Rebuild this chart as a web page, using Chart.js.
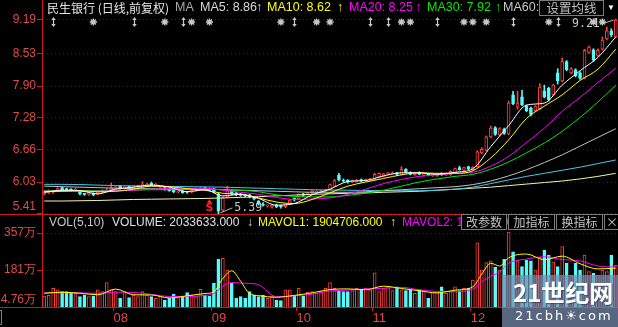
<!DOCTYPE html>
<html>
<head>
<meta charset="utf-8">
<script src="https://cdn.jsdelivr.net/npm/chart.js@4.4.1/dist/chart.umd.min.js"></script>
<style>
html,body{margin:0;padding:0;background:#000;}
#wrap{position:relative;width:618px;height:327px;background:#000;overflow:hidden;}
canvas{position:absolute;left:0;}
#cp{top:0;}
#cv{top:215px;}
.t{position:absolute;white-space:nowrap;font-family:"Liberation Sans",Arial,sans-serif;line-height:15px;}
.h1{top:0;font-size:12.5px;}
.h2{top:215px;font-size:12px;}
.cjk{font-family:"Noto Sans CJK SC",sans-serif;font-size:12px;}
.btn{position:absolute;box-sizing:border-box;border:1px solid #7c7c7c;background:#000;color:#c4c4c4;font-family:"Noto Sans CJK SC",sans-serif;font-size:12px;line-height:13px;text-align:center;}
.hl{position:absolute;left:0;width:618px;height:1px;background:#d01818;}
#wm{position:absolute;left:502px;top:275px;width:116px;height:52px;background:rgba(120,140,175,0.72);}
#wm1{position:absolute;left:11px;top:2px;font-family:"Noto Sans CJK SC",sans-serif;font-weight:bold;font-size:24px;line-height:30px;color:#fff;text-shadow:1px 1px 1px rgba(40,50,70,0.6);white-space:nowrap;}
#wm2{position:absolute;left:13px;top:33px;font-family:"DejaVu Sans",sans-serif;font-size:13px;line-height:15px;letter-spacing:2px;color:#fff;white-space:nowrap;}
</style>
</head>
<body>
<div id="wrap">
<canvas id="cp" width="618" height="215"></canvas>
<canvas id="cv" width="618" height="112"></canvas>
<div class="hl" style="top:214px"></div>
<div class="hl" style="top:307px"></div>
<div style="position:absolute;left:-8px;top:310px;width:10px;height:15px;border:1px solid #808080;box-sizing:border-box;"></div>

<span class="t h1 cjk" style="left:47px;color:#e6e6e6;">民生银行 (日线,前复权)</span>
<span class="t h1" style="left:175px;color:#a8a8a8;">MA</span>
<span class="t h1" style="left:200px;color:#d8d8d8;">MA5: 8.86</span>
<span class="t h1" style="left:256px;color:#d8d8d8;">↑</span>
<span class="t h1" style="left:267px;color:#ffff00;">MA10: 8.62</span>
<span class="t h1" style="left:337px;color:#ffff00;">↑</span>
<span class="t h1" style="left:349px;color:#ff00ff;">MA20: 8.25</span>
<span class="t h1" style="left:415px;color:#ff00ff;">↑</span>
<span class="t h1" style="left:427px;color:#00e800;">MA30: 7.92</span>
<span class="t h1" style="left:495px;color:#00e800;">↑</span>
<span class="t h1" style="left:503px;color:#c8c8c8;">MA60:</span>
<div class="btn" style="left:539px;top:0px;width:65px;height:16px;font-size:12.5px;">设置均线</div>
<span class="t" style="left:607px;top:0px;font-size:8px;color:#fff;">▼</span>

<span class="t h2" style="left:49px;color:#c8c8c8;">VOL(5,10)</span>
<span class="t h2" style="left:112px;color:#e0e0e0;">VOLUME: 2033633.000</span>
<span class="t h2" style="left:247px;color:#e0e0e0;">↓</span>
<span class="t h2" style="left:258px;color:#ffff00;">MAVOL1: 1904706.000</span>
<span class="t h2" style="left:390px;color:#ffff00;">↑</span>
<span class="t h2" style="left:402px;color:#ff00ff;">MAVOL2: 1951622.000</span>
<div class="btn" style="left:461px;top:214px;width:46px;height:16px;">改参数</div>
<div class="btn" style="left:508px;top:214px;width:47px;height:16px;">加指标</div>
<div class="btn" style="left:556px;top:214px;width:47px;height:16px;">换指标</div>
<div class="btn" style="left:604px;top:214px;width:16px;height:16px;">×</div>

<div id="wm"><div id="wm1">21世纪网</div><div id="wm2">21cbh☀com</div></div>
</div>

<script>
const priceTicks = [5.41, 6.03, 6.66, 7.28, 7.90, 8.53, 9.19];
const priceTickLabels = ['5.41','6.03','6.66','7.28','7.90','8.53','9.19'];
const volTicks = [4.76, 181, 357];
const volTickLabels = ['4.76万','181万','357万'];
const monthStarts = [16, 38, 57, 74, 96];
const monthLabels = ['08','09','10','11','12'];

const open = [5.80,5.82,5.83,5.85,5.92,5.90,5.89,5.86,5.86,5.80,
5.79,5.81,5.79,5.83,5.85,5.88,5.91,5.95,5.90,5.94,
5.92,5.93,5.96,5.96,6.01,5.96,5.90,5.92,5.90,5.88,
5.83,5.86,5.84,5.83,5.86,5.88,5.92,5.90,5.90,5.80,
5.48,5.74,5.86,5.82,5.80,5.77,5.78,5.74,5.66,5.60,
5.56,5.54,5.58,5.57,5.55,5.62,5.71,5.70,5.80,5.78,
5.82,5.83,5.83,5.85,5.88,5.95,6.16,6.07,6.07,6.03,
6.04,6.08,6.05,6.07,6.08,6.12,6.14,6.18,6.19,6.21,
6.18,6.28,6.22,6.17,6.22,6.16,6.19,6.15,6.15,6.20,
6.17,6.17,6.21,6.31,6.26,6.33,6.27,6.33,6.60,6.65,
6.91,7.09,6.95,7.06,6.97,7.73,7.49,7.69,7.51,7.47,
7.42,7.46,7.81,7.86,7.73,8.16,8.00,8.38,8.16,8.22,
8.16,8.06,8.56,8.61,8.50,8.62,8.82,8.98,8.86];
const high = [5.86,5.88,5.87,5.92,5.93,5.91,5.90,5.91,5.87,5.81,
5.82,5.82,5.85,5.88,5.90,6.01,5.95,5.96,5.94,5.95,
5.96,5.97,6.04,6.01,6.03,6.00,5.94,5.93,5.91,5.89,
5.86,5.87,5.85,5.88,5.91,5.93,5.93,5.91,5.91,5.81,
5.74,5.95,5.88,5.83,5.81,5.78,5.79,5.75,5.67,5.63,
5.59,5.59,5.60,5.58,5.61,5.69,5.72,5.80,5.81,5.83,
5.87,5.86,5.87,5.89,5.99,6.08,6.20,6.09,6.08,6.07,
6.08,6.09,6.09,6.10,6.20,6.21,6.20,6.22,6.23,6.22,
6.33,6.29,6.23,6.22,6.23,6.20,6.20,6.19,6.20,6.21,
6.21,6.25,6.30,6.34,6.32,6.34,6.33,6.64,6.70,6.93,
7.12,7.11,7.09,7.08,7.61,7.80,7.80,7.82,7.53,7.49,
7.52,7.95,7.92,7.88,7.94,8.24,8.45,8.40,8.26,8.24,
8.18,8.62,8.68,8.63,8.63,8.86,9.05,9.02,9.21];
const low = [5.78,5.80,5.81,5.84,5.86,5.85,5.85,5.85,5.78,5.77,
5.77,5.76,5.78,5.82,5.84,5.87,5.90,5.89,5.89,5.90,
5.91,5.92,5.95,5.95,5.96,5.95,5.88,5.87,5.85,5.82,
5.82,5.81,5.81,5.82,5.85,5.87,5.88,5.86,5.82,5.39,
5.46,5.72,5.78,5.76,5.75,5.74,5.72,5.68,5.58,5.56,
5.54,5.52,5.53,5.52,5.53,5.60,5.66,5.69,5.75,5.77,
5.80,5.82,5.82,5.84,5.87,5.94,6.05,6.03,6.01,6.02,
6.03,6.03,6.04,6.06,6.07,6.11,6.13,6.17,6.18,6.16,
6.17,6.21,6.17,6.16,6.17,6.15,6.15,6.14,6.14,6.16,
6.16,6.16,6.20,6.26,6.25,6.27,6.26,6.32,6.58,6.63,
6.89,6.94,6.93,6.96,6.95,7.54,7.45,7.52,7.40,7.32,
7.40,7.44,7.67,7.61,7.71,7.94,7.98,8.20,8.14,8.08,
8.03,8.04,8.54,8.38,8.48,8.60,8.80,8.86,8.84];
const close = [5.84,5.86,5.85,5.90,5.88,5.87,5.87,5.89,5.80,5.79,
5.81,5.78,5.84,5.87,5.88,5.92,5.93,5.91,5.93,5.92,
5.95,5.96,5.99,5.99,5.97,5.99,5.92,5.89,5.86,5.84,
5.85,5.82,5.83,5.87,5.90,5.91,5.89,5.88,5.84,5.46,
5.72,5.86,5.80,5.78,5.77,5.76,5.74,5.70,5.60,5.58,
5.58,5.58,5.55,5.55,5.60,5.68,5.68,5.79,5.77,5.82,
5.86,5.85,5.86,5.88,5.98,6.06,6.07,6.05,6.03,6.06,
6.07,6.05,6.08,6.09,6.18,6.20,6.19,6.20,6.21,6.18,
6.28,6.22,6.18,6.21,6.18,6.19,6.16,6.18,6.19,6.17,
6.20,6.24,6.29,6.27,6.31,6.28,6.32,6.62,6.67,6.91,
7.08,6.96,7.07,6.98,7.57,7.56,7.56,7.54,7.42,7.35,
7.50,7.88,7.69,7.63,7.92,8.00,8.38,8.22,8.24,8.10,
8.05,8.60,8.66,8.41,8.60,8.80,8.98,8.90,9.19];
const volume = [57,60,94,86,78,78,70,70,54,62,
54,57,86,78,121,86,78,46,78,50,
62,54,78,62,54,46,57,38,46,66,
50,57,73,62,57,89,62,57,118,232,
237,181,118,46,54,46,78,62,54,62,
46,57,38,35,86,86,57,94,57,75,
78,70,78,94,121,94,83,78,78,83,
94,86,94,86,168,78,94,101,83,101,
86,83,86,70,86,83,46,73,73,101,
70,78,101,83,94,94,133,310,181,216,
225,195,181,232,362,268,228,197,228,225,
181,241,276,252,220,197,292,213,157,213,
181,252,173,165,157,181,173,252,203];

const maIdx = [0,4,8,12,16,20,24,28,32,36,40,44,48,52,56,60,64,68,72,76,80,84,88,92,96,100,104,108,112,116,120,124,128];
const ma5 = [5.83,5.87,5.86,5.80,5.89,5.93,5.97,5.93,5.84,5.88,5.76,5.79,5.71,5.58,5.61,5.78,5.89,6.04,6.06,6.15,6.21,6.21,6.18,6.22,6.29,6.72,7.13,7.53,7.57,7.92,8.20,8.46,8.86];
const ma10 = [5.84,5.85,5.86,5.84,5.85,5.89,5.95,5.94,5.90,5.87,5.81,5.79,5.72,5.64,5.61,5.69,5.82,5.95,6.03,6.10,6.17,6.21,6.20,6.20,6.25,6.50,6.85,7.27,7.51,7.73,8.01,8.23,8.62];
const ma20 = [5.85,5.85,5.85,5.85,5.86,5.87,5.89,5.905,5.91,5.91,5.87,5.83,5.79,5.73,5.69,5.70,5.72,5.79,5.89,6.00,6.08,6.14,6.17,6.20,6.22,6.34,6.53,6.80,7.08,7.41,7.68,7.97,8.25];
const ma30 = [5.86,5.86,5.86,5.86,5.86,5.87,5.88,5.88,5.89,5.89,5.88,5.87,5.84,5.78,5.75,5.74,5.74,5.77,5.81,5.87,5.95,6.03,6.09,6.14,6.18,6.28,6.42,6.60,6.79,7.02,7.29,7.59,7.92];
const ma60 = [5.95,5.94,5.93,5.92,5.91,5.90,5.90,5.89,5.89,5.89,5.88,5.87,5.86,5.85,5.84,5.83,5.83,5.83,5.84,5.86,5.88,5.90,5.92,5.94,5.98,6.05,6.15,6.27,6.41,6.56,6.73,6.90,7.07];
const ma120 = [5.985,5.985,5.98,5.97,5.96,5.955,5.95,5.945,5.94,5.935,5.93,5.92,5.91,5.90,5.89,5.88,5.875,5.87,5.865,5.86,5.86,5.86,5.87,5.89,5.93,6.00,6.07,6.14,6.20,6.26,6.32,6.39,6.46];
const ma250 = [5.66,5.66,5.665,5.67,5.68,5.69,5.695,5.70,5.705,5.71,5.72,5.73,5.745,5.76,5.775,5.79,5.80,5.81,5.82,5.83,5.84,5.85,5.87,5.89,5.91,5.93,5.96,5.99,6.02,6.05,6.09,6.14,6.20];

const mavolIdx = [0,4,8,12,16,20,24,28,32,36,38,40,42,44,46,48,52,56,60,64,68,72,76,80,84,88,92,96,98,100,102,104,108,112,116,120,124,128];
const mavol1 = [70,75,70,63,90,63,62,48,58,69,77,141,177,127,68,59,51,60,72,88,91,87,104,93,82,72,85,101,162,213,200,239,257,230,247,211,186,190];
const mavol2 = [72,73,72,70,75,74,65,55,55,60,69,104,121,119,117,111,54,58,66,81,85,91,94,98,87,79,78,90,125,152,171,213,233,244,231,224,200,195];

const newsStar = [11,27,33,37,53,61,64,80,82,94,96,99,113,123,125];
const newsArrow = [2,20,31,56,73,77,88,105,115];
const exRightIdx = [37];

const N = close.length;
const RED = '#ff3c3c', CYAN = '#54fcfc';
const AXIS = '#d01818', LABEL = '#e04a4a', GRID = '#3a2222';
const up = close.map((c, i) => c >= open[i]);
const pts = (idx, vals) => vals.map((v, k) => ({x: idx[k], y: v}));
function lineDs(vals, idx, color, order) {
  return {type: 'line', data: pts(idx, vals), borderColor: color, borderWidth: 1,
    pointRadius: 0, cubicInterpolationMode: 'monotone', fill: false, order};
}
const tickFont = {family: '"Liberation Sans", Arial, sans-serif', size: 12};

const overlay = {
  id: 'overlay',
  afterDraw(chart) {
    const {ctx, scales: {x, y}} = chart;
    ctx.save();
    // extremes
    let lo = 0, hi = 0;
    for (let i = 1; i < N; i++) { if (low[i] < low[lo]) lo = i; if (high[i] > high[hi]) hi = i; }
    ctx.strokeStyle = '#b8b8b8'; ctx.fillStyle = '#c8c8c8'; ctx.lineWidth = 1;
    ctx.font = '11.5px "DejaVu Sans Mono", monospace'; ctx.textBaseline = 'middle';
    const lx = x.getPixelForValue(lo), ly = y.getPixelForValue(low[lo]);
    ctx.beginPath(); ctx.moveTo(lx + 2, ly - 2); ctx.lineTo(lx + 14, ly - 7); ctx.stroke();
    ctx.textAlign = 'left'; ctx.fillText(low[lo].toFixed(2), lx + 16, ly - 7);
    const hx = x.getPixelForValue(hi), hy = y.getPixelForValue(high[hi]);
    ctx.beginPath(); ctx.moveTo(hx - 2, hy + 1); ctx.lineTo(hx - 14, hy + 5); ctx.stroke();
    ctx.textAlign = 'right'; ctx.fillText(high[hi].toFixed(2), hx - 16, hy + 5);
    // ex-right marker
    ctx.fillStyle = '#ff2020'; ctx.font = 'bold 11px "DejaVu Sans", sans-serif'; ctx.textAlign = 'center';
    exRightIdx.forEach(i => {
      const px = x.getPixelForValue(i);
      ctx.beginPath(); ctx.moveTo(px - 2.5, 203); ctx.lineTo(px, 199); ctx.lineTo(px + 2.5, 203); ctx.fill();
      ctx.fillText('S', px, 208);
    });
    // information markers
    const cy = 22;
    ctx.strokeStyle = '#c8c8c8'; ctx.fillStyle = '#c8c8c8'; ctx.lineWidth = 1.4;
    newsStar.forEach(i => {
      const px = x.getPixelForValue(i);
      ctx.beginPath();
      for (let a = 0; a < 4; a++) {
        const ang = a * Math.PI / 4, dx = Math.cos(ang) * 3.6, dy = Math.sin(ang) * 3.6;
        ctx.moveTo(px - dx, cy - dy); ctx.lineTo(px + dx, cy + dy);
      }
      ctx.stroke();
    });
    ctx.lineWidth = 1.2;
    newsArrow.forEach(i => {
      const px = Math.round(x.getPixelForValue(i)) + 0.5;
      ctx.beginPath(); ctx.moveTo(px, cy - 3); ctx.lineTo(px, cy + 3); ctx.stroke();
      ctx.beginPath(); ctx.moveTo(px - 2.2, cy - 2); ctx.lineTo(px, cy - 5); ctx.lineTo(px + 2.2, cy - 2); ctx.fill();
      ctx.beginPath(); ctx.moveTo(px - 2.2, cy + 2); ctx.lineTo(px, cy + 5); ctx.lineTo(px + 2.2, cy + 2); ctx.fill();
    });
    ctx.restore();
  }
};

new Chart(document.getElementById('cp'), {
  type: 'bar',
  data: {datasets: [
    lineDs(ma5, maIdx, '#ffffff', 0),
    lineDs(ma10, maIdx, '#ffff00', 1),
    lineDs(ma20, maIdx, '#ff00ff', 2),
    lineDs(ma30, maIdx, '#00e600', 2),
    lineDs(ma60, maIdx, '#c0c0c0', 3),
    lineDs(ma120, maIdx, '#48c8e8', 3),
    lineDs(ma250, maIdx, '#f4f4a8', 3),
    {data: open.map((o, i) => ({x: i, y: [o, close[i]]})),
      backgroundColor: up.map(u => u ? '#000000' : CYAN), borderColor: up.map(u => u ? RED : CYAN),
      borderWidth: 1, borderSkipped: false, barThickness: 3, minBarLength: 1, grouped: false, order: 5},
    {data: low.map((l, i) => ({x: i, y: [l, high[i]]})),
      backgroundColor: up.map(u => u ? RED : CYAN), borderWidth: 0, barThickness: 1, grouped: false, order: 6}
  ]},
  options: {
    responsive: false, animation: false, devicePixelRatio: 1, events: [],
    layout: {padding: 0},
    plugins: {legend: {display: false}, tooltip: {enabled: false}},
    scales: {
      x: {type: 'linear', min: -0.5, max: N - 0.5, display: false, offset: false, grid: {offset: false}},
      y: {type: 'linear', min: 5.387, max: 9.58, position: 'left', beginAtZero: false,
        afterFit(s) { s.width = 42; s.paddingTop = 0; s.paddingBottom = 0; },
        afterBuildTicks(s) { s.ticks = priceTicks.map(v => ({value: v})); },
        ticks: {autoSkip: false, padding: 1, color: LABEL, font: tickFont,
          callback: (v, i) => i === 0 ? [priceTickLabels[0], ''] : priceTickLabels[i]},
        grid: {color: GRID, tickColor: AXIS, tickLength: 5},
        border: {color: AXIS, dash: [1, 3]}
      }
    }
  },
  plugins: [overlay]
});

new Chart(document.getElementById('cv'), {
  type: 'bar',
  data: {datasets: [
    lineDs(mavol1, mavolIdx, '#ffff00', 0),
    lineDs(mavol2, mavolIdx, '#ff00ff', 1),
    {data: volume.map((v, i) => ({x: i, y: v})),
      backgroundColor: up.map(u => u ? '#000000' : CYAN), borderColor: up.map(u => u ? RED : CYAN),
      borderWidth: 1, borderSkipped: false, barThickness: 3, grouped: false, order: 5}
  ]},
  options: {
    responsive: false, animation: false, devicePixelRatio: 1, events: [],
    layout: {padding: 0},
    plugins: {legend: {display: false}, tooltip: {enabled: false}},
    scales: {
      x: {type: 'linear', min: -0.5, max: N - 0.5, offset: false, position: 'bottom',
        afterFit(s) { s.height = 20; s.paddingLeft = 0; s.paddingRight = 0; },
        afterBuildTicks(s) { s.ticks = monthStarts.map(v => ({value: v - 0.5})); },
        ticks: {autoSkip: false, maxRotation: 0, align: 'start', padding: 0, color: LABEL,
          font: {family: '"Liberation Sans", Arial, sans-serif', size: 13},
          callback: (v, i) => monthLabels[i]},
        grid: {offset: false, drawOnChartArea: false, color: AXIS, tickColor: AXIS, tickLength: 4},
        border: {color: AXIS}
      },
      y: {type: 'linear', min: 4.76, max: 443, position: 'left', beginAtZero: false,
        afterFit(s) { s.width = 42; s.paddingTop = 0; s.paddingBottom = 0; },
        afterBuildTicks(s) { s.ticks = volTicks.map(v => ({value: v})); },
        ticks: {autoSkip: false, padding: 1, color: LABEL, font: tickFont,
          callback: (v, i) => i === 0 ? [volTickLabels[0], ''] : volTickLabels[i]},
        grid: {color: GRID, tickColor: AXIS, tickLength: 5},
        border: {color: AXIS, dash: [1, 3]}
      }
    }
  }
});
</script>
</body>
</html>
